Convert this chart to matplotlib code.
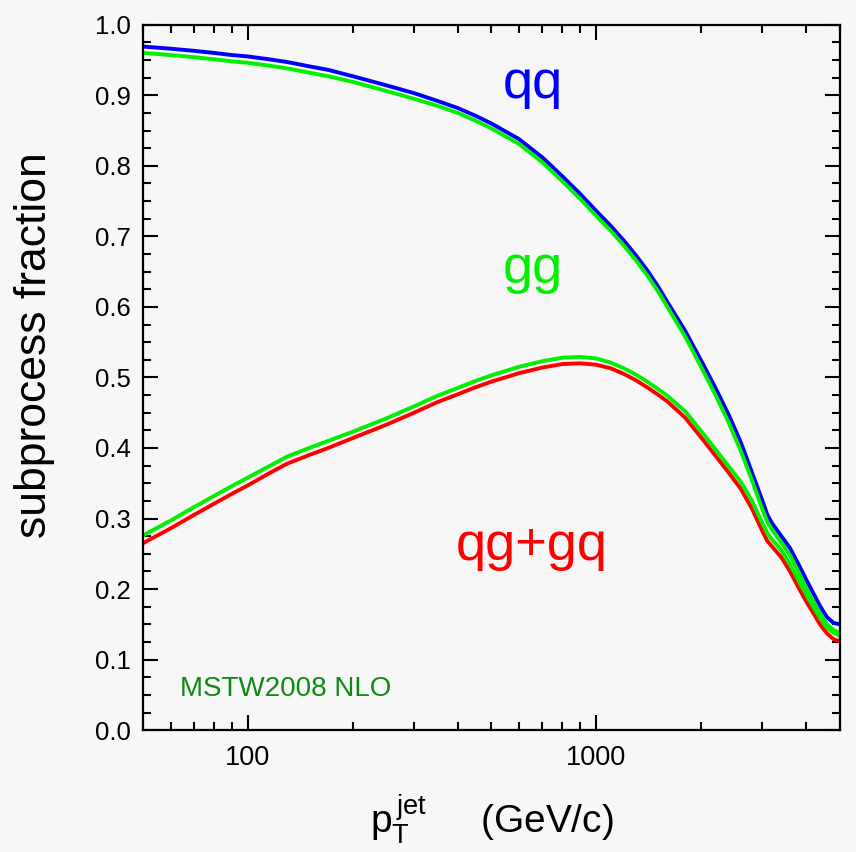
import numpy as np
import matplotlib
matplotlib.use("Agg")
import matplotlib.pyplot as plt
from matplotlib.ticker import LogLocator, NullFormatter, MultipleLocator, FormatStrFormatter

plt.rcParams['font.family'] = ['Liberation Sans', 'DejaVu Sans']
plt.rcParams['mathtext.default'] = 'regular'

# jet pT (GeV/c)
pt = [50, 60, 70, 80, 90, 100, 115, 130, 150, 170, 200, 250, 300, 350, 400,
      450, 500, 600, 700, 800, 900, 1000, 1100, 1200, 1300, 1400, 1500, 1600,
      1800, 2000, 2200, 2400, 2600, 2800, 3000, 3100, 3200, 3400, 3600, 3800,
      4000, 4200, 4400, 4600, 4800, 5000]

qq = [0.969, 0.966, 0.963, 0.960, 0.957, 0.955, 0.951, 0.947, 0.941, 0.936,
      0.927, 0.914, 0.903, 0.892, 0.882, 0.871, 0.860, 0.838, 0.812, 0.785,
      0.760, 0.736, 0.715, 0.694, 0.673, 0.652, 0.630, 0.607, 0.566, 0.524,
      0.485, 0.447, 0.408, 0.365, 0.325, 0.305, 0.293, 0.275, 0.258, 0.236,
      0.214, 0.194, 0.175, 0.160, 0.152, 0.150]

gg = [0.960, 0.957, 0.954, 0.951, 0.948, 0.946, 0.942, 0.938, 0.932, 0.927,
      0.919, 0.906, 0.895, 0.885, 0.875, 0.864, 0.853, 0.831, 0.805, 0.778,
      0.753, 0.729, 0.708, 0.687, 0.666, 0.645, 0.623, 0.600, 0.558, 0.515,
      0.475, 0.436, 0.396, 0.354, 0.313, 0.295, 0.284, 0.266, 0.248, 0.225,
      0.202, 0.182, 0.164, 0.150, 0.142, 0.138]

qg_green = [0.276, 0.297, 0.316, 0.332, 0.346, 0.358, 0.374, 0.388, 0.400,
            0.410, 0.423, 0.442, 0.459, 0.474, 0.485, 0.495, 0.503, 0.515,
            0.523, 0.528, 0.529, 0.527, 0.521, 0.513, 0.504, 0.494, 0.484,
            0.474, 0.452, 0.424, 0.398, 0.374, 0.352, 0.325, 0.293, 0.279,
            0.270, 0.255, 0.235, 0.213, 0.193, 0.175, 0.158, 0.145, 0.138,
            0.134]

qg_red = [0.265, 0.286, 0.305, 0.321, 0.335, 0.347, 0.364, 0.378, 0.390,
          0.400, 0.414, 0.433, 0.450, 0.465, 0.476, 0.486, 0.494, 0.506,
          0.514, 0.519, 0.520, 0.518, 0.513, 0.505, 0.496, 0.486, 0.476,
          0.466, 0.443, 0.415, 0.389, 0.365, 0.342, 0.314, 0.282, 0.268,
          0.260, 0.245, 0.225, 0.203, 0.183, 0.166, 0.149, 0.137, 0.129,
          0.126]

bg = '#f7f7f7'
fig = plt.figure(figsize=(8.56, 8.52), dpi=100, facecolor=bg)
ax = fig.add_axes([0.167, 0.143, 0.814, 0.828], facecolor=bg)

lw = 2.8
ax.plot(pt, qq, color='#0000ff', lw=lw)
ax.plot(pt, gg, color='#00f000', lw=lw)
ax.plot(pt, qg_red, color='#ff0000', lw=lw)
ax.plot(pt, qg_green, color='#00f000', lw=lw)

ax.set_xscale('log')
ax.set_xlim(50, 5000)
ax.set_ylim(0, 1)

ax.set_xticks([100, 1000])
ax.set_xticklabels(['100', '1000'])
ax.xaxis.set_minor_locator(LogLocator(base=10, subs=np.arange(2, 10)))
ax.xaxis.set_minor_formatter(NullFormatter())
ax.yaxis.set_major_locator(MultipleLocator(0.1))
ax.yaxis.set_minor_locator(MultipleLocator(0.025))
ax.yaxis.set_major_formatter(FormatStrFormatter('%.1f'))

ax.tick_params(which='both', direction='in', top=True, right=True, width=1.5, color='black')
ax.tick_params(which='major', length=10.5)
ax.tick_params(which='minor', length=5.5)
ax.tick_params(axis='x', labelsize=19.5, pad=11)
ax.tick_params(axis='y', labelsize=18.5, pad=8.5)
for s in ax.spines.values():
    s.set_linewidth(1.6)

ax.set_ylabel('subprocess fraction', fontsize=32)
ax.yaxis.set_label_coords(-0.126, 0.546)
ax.set_xlabel(r'p$_T^{\,jet}$     (GeV/c)', fontsize=28, labelpad=15)

ax.text(660, 0.896, 'qq', color='#0000ff', fontsize=39, ha='center', va='baseline')
ax.text(660, 0.634, 'gg', color='#00f000', fontsize=39, ha='center', va='baseline')
ax.text(652, 0.241, 'qg+gq', color='#ff0000', fontsize=39, ha='center', va='baseline')
ax.text(64, 0.048, 'MSTW2008 NLO', color='#118a11', fontsize=20, ha='left', va='baseline')

fig.savefig('out.png', dpi=100, facecolor=bg)
